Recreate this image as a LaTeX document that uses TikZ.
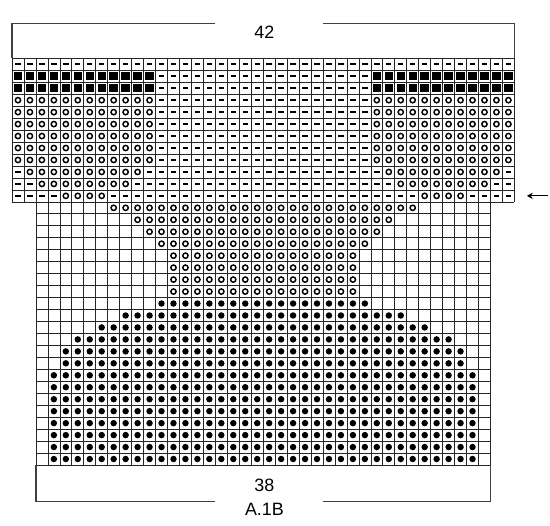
\documentclass[tikz,border=0pt]{standalone}
\usepackage{fontspec}
\setmainfont{Liberation Sans}
\usetikzlibrary{arrows.meta}

\tikzset{
  gridline/.style={line width=0.6pt, black!85},
  bracket/.style={line width=1.4pt, black!75},
  lbl/.style={font=\fontsize{17}{20}\selectfont, inner sep=0pt},
  purl/.pic={\fill (-0.09,-0.032) rectangle (0.09,0.032);},
  block/.pic={\fill (-0.14,-0.14) rectangle (0.14,0.14);},
  ring/.pic={\draw[line width=1.4pt] (0,0) circle (0.088);},
  bobble/.pic={\fill (0,0) circle (0.108);}
}

\begin{document}
\begin{tikzpicture}[scale=0.4]
    \path[use as bounding box, fill=white] (-1.003,4.875) rectangle (44.98,-39.02);
    \coordinate (NW) at (0,0);
    \coordinate (NE) at (42,0);
    \coordinate (SW) at (2,-34);
    \coordinate (SE) at (40,-34);
    % top band: 42 sts, 12 rows, motif mirrored on both sides
    \foreach \r/\lo/\hi/\s in {1/1/0/0, 2/1/12/1, 3/1/12/1, 4/1/12/2, 5/1/12/2, 6/1/12/2,
        7/1/12/2, 8/1/12/2, 9/1/12/2, 10/2/11/2, 11/3/10/2, 12/5/8/2}{
      \foreach \k in {1,...,42}{
        \pgfmathtruncatemacro\m{min(\k,43-\k)}
        \coordinate (c) at (\k-0.5,0.5-\r);
        \ifnum\m<\lo \pic at (c) {purl};
        \else\ifnum\m>\hi \pic at (c) {purl};
        \else\ifcase\s\or\pic at (c) {block};\or\pic at (c) {ring};\fi
        \fi\fi
      }
    }
    % lower part: 38 sts, 22 rows
    \foreach \r/\lo/\s in {13/7/2, 14/9/2, 15/10/2, 16/11/2, 17/12/2, 18/12/2, 19/12/2, 20/12/2,
        21/11/3, 22/8/3, 23/6/3, 24/4/3, 25/3/3, 26/3/3, 27/2/3, 28/2/3, 29/2/3, 30/2/3,
        31/2/3, 32/2/3, 33/2/3, 34/2/3}{
      \foreach \j in {1,...,38}{
        \pgfmathtruncatemacro\m{min(\j,39-\j)}
        \coordinate (c) at (\j+1.5,0.5-\r);
        \ifnum\m<\lo\else
          \ifnum\s=2 \pic at (c) {ring};\else\pic at (c) {bobble};\fi
        \fi
      }
    }
    % grid lines
    \foreach \k in {0,...,42} \draw[gridline] (\k,0) -- (\k,-12);
    \foreach \r in {0,...,12} \draw[gridline] (0,-\r) -- (42,-\r);
    \foreach \k in {2,...,40} \draw[gridline] (\k,-12) -- (\k,-34);
    \foreach \r in {13,...,34} \draw[gridline] (2,-\r) -- (40,-\r);
    % width brackets
    \coordinate (T1) at (17,2.93);
    \coordinate (T2) at (26,2.93);
    \coordinate (B1) at (17,-37.07);
    \coordinate (B2) at (26,-37.07);
    \draw[bracket] (T1) -| (NW);
    \draw[bracket] (T2) -| (NE);
    \draw[bracket] (B1) -| (SW);
    \draw[bracket] (B2) -| (SE);
    \node[lbl] (wtop) at (21.1,2.2) {42};
    \node[lbl] (wbot) at (21.1,-35.68) {38};
    \node[lbl] (chart) at (21.1,-37.75) {A.1B};
    % row marker
    \coordinate (mtail) at (44.8,-11.5);
    \coordinate (mtip) at (43.05,-11.5);
    \draw[line width=0.8pt, -{Stealth[length=5.5pt,width=6pt]}] (mtail) -- (mtip);
\end{tikzpicture}
\end{document}
